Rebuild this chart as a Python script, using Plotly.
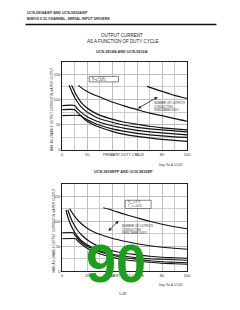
import plotly.graph_objects as go

# ---------------- data ----------------
x_ticks = [0, 20, 40, 60, 80, 100]
y_ticks = [0, 50, 100, 150]

# Chart 1: UCN-5818A and UCN-5832A
c1_top_x = [13, 16, 20, 25, 30, 40, 50, 60, 70, 80, 90, 100]
c1_top_y = [128, 122, 116, 110, 105, 95, 87, 80, 73, 68, 62, 57]
c1_right_x = [68, 75, 80, 85, 90, 95, 100]
c1_right_y = [126, 120, 116, 112, 108, 105, 102]
c1_a_x = [7.5, 10, 12, 15, 20, 25, 30, 40, 50, 60, 70, 80, 90, 100]
c1_a_y = [128, 115, 106, 95, 83, 75, 69, 61, 55, 51, 47, 44, 42, 40]
c1_b_x = [5.5, 8, 10, 12, 15, 20, 25, 30, 40, 50, 60, 70, 80, 90, 100]
c1_b_y = [128, 114, 104, 96, 86, 75, 68, 62, 55, 49, 45, 42, 40, 38, 36]
c1_c_x = [0, 10, 12, 15, 20, 25, 30, 40, 50, 60, 70, 80, 90, 100]
c1_c_y = [88, 88, 82, 75, 66, 60, 55, 48, 43, 39, 36, 34, 32, 30]
c1_d_x = [0, 10, 12, 15, 20, 25, 30, 40, 50, 60, 70, 80, 90, 100]
c1_d_y = [80, 80, 75, 68, 60, 54, 49, 42, 37, 33, 30, 28, 26, 25]
c1_e_x = [0, 15, 17, 20, 25, 30, 40, 50, 60, 70, 80, 90, 100]
c1_e_y = [68, 68, 63, 57, 50, 45, 37, 31, 27, 24, 21, 19, 17]

# Chart 2: UCN-5818EPF and UCN-5832EP
c2_top_x = [6, 8, 10, 12, 15, 20, 25, 30, 40, 50, 60, 70, 80, 90, 100]
c2_top_y = [125, 117, 110, 104, 96, 86, 79, 74, 66, 60, 55, 51, 48, 46, 44]
c2_right_x = [33, 40, 50, 60, 70, 80, 90, 100]
c2_right_y = [127, 122, 114, 107, 100, 94, 89, 85]
c2_a_x = [4.5, 6, 8, 10, 12, 15, 20, 25, 30, 40, 50, 60, 70, 80, 90, 100]
c2_a_y = [123, 112, 100, 91, 83, 74, 63, 55, 49, 41, 36, 33, 30, 28, 27, 26]
c2_b_x = [3, 5, 7, 10, 12, 15, 20, 25, 30, 40, 50, 60, 70, 80, 90, 100]
c2_b_y = [123, 105, 92, 78, 71, 62, 53, 46, 41, 34, 30, 27, 25, 24, 23, 22]
c2_c_x = [0, 9, 10, 12, 15, 20, 25, 30, 40, 50, 60, 70, 80, 90, 100]
c2_c_y = [77, 77, 73, 67, 59, 50, 44, 39, 32, 27, 24, 21, 19, 18, 17]
c2_d_x = [0, 11, 12, 15, 20, 25, 30, 40, 50, 60, 70, 80, 90, 100]
c2_d_y = [65, 65, 62, 55, 46, 40, 35, 28, 23, 20, 18, 16, 15, 14]

# ---------------- figure ----------------
FONT = "Liberation Sans"
fig = go.Figure()

c1 = [(c1_top_x, c1_top_y), (c1_right_x, c1_right_y), (c1_a_x, c1_a_y),
      (c1_b_x, c1_b_y), (c1_c_x, c1_c_y), (c1_d_x, c1_d_y), (c1_e_x, c1_e_y)]
c2 = [(c2_top_x, c2_top_y), (c2_right_x, c2_right_y), (c2_a_x, c2_a_y),
      (c2_b_x, c2_b_y), (c2_c_x, c2_c_y), (c2_d_x, c2_d_y)]

for xs, ys in c1:
    fig.add_trace(go.Scatter(x=xs, y=ys, mode="lines", line=dict(color="#111", width=1.2, shape="spline", smoothing=0.6),
                             xaxis="x", yaxis="y", showlegend=False, hoverinfo="skip"))
for xs, ys in c2:
    fig.add_trace(go.Scatter(x=xs, y=ys, mode="lines", line=dict(color="#111", width=1.2, shape="spline", smoothing=0.6),
                             xaxis="x2", yaxis="y2", showlegend=False, hoverinfo="skip"))

xdom = [0.2604, 0.7917]
ax_common = dict(range=[0, 100], tickvals=x_ticks, ticktext=[str(v) for v in x_ticks],
                 showgrid=True, gridcolor="#bdbdbd", gridwidth=0.6,
                 minor=dict(dtick=10, showgrid=True, gridcolor="#cccccc", gridwidth=0.5),
                 showline=True, linecolor="#222", linewidth=1, mirror=True,
                 ticks="", tickfont=dict(size=4, family=FONT, color="#333"),
                 zeroline=False, fixedrange=True)
ay_common = dict(range=[0, 175], tickvals=y_ticks, ticktext=[str(v) for v in y_ticks],
                 showgrid=True, gridcolor="#bdbdbd", gridwidth=0.6,
                 minor=dict(dtick=25, showgrid=True, gridcolor="#cccccc", gridwidth=0.5),
                 showline=True, linecolor="#222", linewidth=1, mirror=True,
                 ticks="", tickfont=dict(size=4, family=FONT, color="#333"),
                 zeroline=False, fixedrange=True)

fig.update_layout(
    width=240, height=310, margin=dict(l=0, r=0, t=0, b=0),
    paper_bgcolor="white", plot_bgcolor="white",
    font=dict(family=FONT, size=4, color="#222"),
    xaxis=dict(domain=xdom, anchor="y", **ax_common),
    yaxis=dict(domain=[0.5129, 0.8000], anchor="x", **ay_common),
    xaxis2=dict(domain=xdom, anchor="y2", **ax_common),
    yaxis2=dict(domain=[0.1194, 0.4032], anchor="x2", **ay_common),
)

shapes = [
    dict(type="line", xref="paper", yref="paper", x0=25/240, x1=220/240, y0=(310-24.7)/310, y1=(310-24.7)/310,
         line=dict(color="#111", width=1.6)),
    dict(type="rect", xref="x", yref="y", x0=21.6, x1=45.1, y0=134.8, y1=145.7,
         line=dict(color="#333", width=0.6), fillcolor="white"),
    dict(type="rect", xref="x2", yref="y2", x0=50.4, x1=71.2, y0=125.5, y1=142,
         line=dict(color="#333", width=0.6), fillcolor="white"),
]
fig.update_layout(shapes=shapes)

def txt(x, y, s, size=4, xanchor="left", color="#333", **kw):
    return dict(xref="paper", yref="paper", x=x/240, y=(310-y)/310, text=s, showarrow=False,
                xanchor=xanchor, yanchor="middle", font=dict(size=size, family=FONT, color=color), **kw)

small = dict(size=2.8, family=FONT, color="#333")
anns = [
    txt(25, 12.7, "<b>UCN-5818A/EP AND UCN-5832A/EP</b>", 3.6),
    txt(25, 18.7, "<b>BiMOS II 32-CHANNEL, SERIAL-INPUT DRIVERS</b>", 3.6),
    txt(124, 35.7, "OUTPUT CURRENT", 4.5, "center", "#222"),
    txt(124, 41.7, "AS A FUNCTION OF DUTY CYCLE", 4.5, "center", "#222"),
    txt(124, 52.5, "<b>UCN-5818A AND UCN-5832A</b>", 3.8, "center"),
    txt(125, 156, "PERCENT DUTY CYCLE", 3.6, "center"),
    txt(188, 165.7, "Dwg. No. A-12,033", 2.8, "right"),
    txt(125, 173.5, "<b>UCN-5818EPF AND UCN-5832EP</b>", 3.8, "center"),
    txt(125, 278, "PERCENT DUTY CYCLE", 3.6, "center"),
    txt(188, 287, "Dwg. No. A-12,034", 2.8, "right"),
    txt(124, 296, "5-48", 3.6, "center"),
    txt(52, 110, "MAX. ALLOWABLE OUTPUT CURRENT IN mA PER OUTPUT", 3, "center", textangle=-90),
    txt(54, 232, "MAX. ALLOWABLE OUTPUT CURRENT IN mA PER OUTPUT", 3, "center", textangle=-90),
    # legend box texts
    dict(xref="x", yref="y", x=22.5, y=142.8, text="V<sub>DD</sub> = 5 V", showarrow=False,
         xanchor="left", font=small),
    dict(xref="x", yref="y", x=22.5, y=137.6, text="T<sub>A</sub> = +50°C", showarrow=False,
         xanchor="left", font=small),
    dict(xref="x2", yref="y2", x=51.2, y=138, text="V<sub>DD</sub> = 5 V", showarrow=False,
         xanchor="left", font=small),
    dict(xref="x2", yref="y2", x=51.2, y=130, text="T<sub>A</sub> = +50°C", showarrow=False,
         xanchor="left", font=small),
    # number of outputs notes
    dict(xref="x", yref="y", x=72, y=87, text="NUMBER OF OUTPUTS<br>CONDUCTING<br>SIMULTANEOUSLY",
         showarrow=False, xanchor="left", align="left", font=small),
    dict(xref="x2", yref="y2", x=46, y=84, text="NUMBER OF OUTPUTS<br>CONDUCTING<br>SIMULTANEOUSLY",
         showarrow=False, xanchor="left", align="left", font=small),
    # arrows
    dict(xref="x", yref="y", x=76.5, y=105, axref="x", ayref="y", ax=59.5, ay=80.7, text="",
         showarrow=True, arrowhead=2, arrowside="end+start", arrowsize=0.8, arrowwidth=0.8, arrowcolor="#222"),
    dict(xref="x2", yref="y2", x=45.1, y=101, axref="x2", ayref="y2", ax=35.9, ay=77.7, text="",
         showarrow=True, arrowhead=2, arrowside="end+start", arrowsize=0.8, arrowwidth=0.8, arrowcolor="#222"),
    # green stamp
    txt(117, 265, "<b>90</b>", 54, "center", "#1e9e1e"),
]
fig.update_layout(annotations=anns)

fig.write_html("out.html")
